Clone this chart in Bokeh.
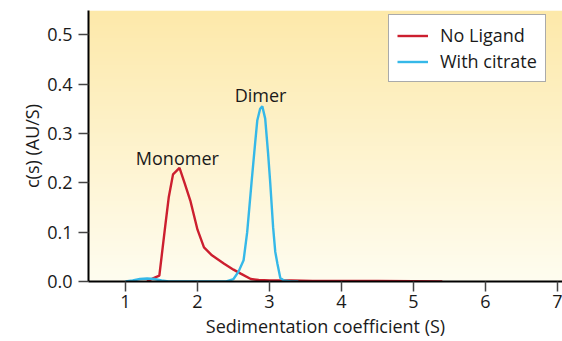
import numpy as np
from bokeh.plotting import figure
from bokeh.models import Range1d, Legend, LegendItem
from bokeh.core.properties import value
from bokeh.embed import file_html
from bokeh.resources import INLINE

# ---- data ----
no_ligand_s = [1.30, 1.39, 1.47, 1.55, 1.60, 1.66, 1.75, 1.82, 1.90, 2.00, 2.09, 2.20, 2.37, 2.50, 2.60, 2.74, 2.85, 3.00, 3.30, 3.60, 4.00, 4.50, 5.00, 5.40]
no_ligand_c = [0.000, 0.007, 0.012, 0.110, 0.170, 0.217, 0.230, 0.200, 0.164, 0.105, 0.069, 0.053, 0.036, 0.024, 0.016, 0.005, 0.003, 0.002, 0.002, 0.001, 0.001, 0.001, 0.0005, 0.0]

citrate_s = [1.00, 1.10, 1.20, 1.30, 1.40, 1.50, 1.60, 2.00, 2.40, 2.50, 2.57, 2.64, 2.69, 2.75, 2.80, 2.83, 2.87, 2.90, 2.94, 2.98, 3.01, 3.05, 3.08, 3.11, 3.15, 3.20, 3.30, 3.40]
citrate_c = [0.000, 0.002, 0.005, 0.006, 0.005, 0.002, 0.000, 0.000, 0.000, 0.005, 0.020, 0.043, 0.100, 0.200, 0.280, 0.326, 0.350, 0.355, 0.330, 0.260, 0.200, 0.110, 0.060, 0.036, 0.007, 0.002, 0.000, 0.000]

label_text = ["Monomer", "Dimer"]
label_x = [1.72, 2.875]
label_y = [0.251, 0.377]

x_ticks = [1, 2, 3, 4, 5, 6, 7]
y_ticks = [0.0, 0.1, 0.2, 0.3, 0.4, 0.5]

x_title = "Sedimentation coefficient (S)"
y_title = "c(s) (AU/S)"

FONT = "Open Sans"
FS = "18px"
TXT = "#1a1a1a"
RED = "#cc1f2f"
BLUE = "#35b8e8"

W, H = 562, 341
LEFT, TOP, BOTTOM = 88, 10, 60
PX_PER_UNIT = 72.0
x_start = 0.486
x_end = x_start + (W - LEFT) / PX_PER_UNIT

p = figure(width=W, height=H, output_backend="svg", toolbar_location=None,
           x_range=Range1d(x_start, x_end), y_range=Range1d(0.0, 0.549),
           min_border_left=LEFT, min_border_right=0, min_border_top=TOP,
           min_border_bottom=BOTTOM)
p.outline_line_color = None
p.grid.visible = False
p.background_fill_color = "white"
p.border_fill_color = "white"

# vertical gradient background
top = np.array([253, 233, 170], dtype=float)
bot = np.array([255, 253, 240], dtype=float)
n = 200
t = np.linspace(0, 1, n)[:, None]  # row 0 = bottom
cols = bot * (1 - t) + top * t
img = np.empty((n, 1), dtype=np.uint32)
view = img.view(dtype=np.uint8).reshape((n, 1, 4))
view[:, 0, 0] = cols[:, 0].astype(np.uint8)
view[:, 0, 1] = cols[:, 1].astype(np.uint8)
view[:, 0, 2] = cols[:, 2].astype(np.uint8)
view[:, 0, 3] = 255
x0, x1 = p.x_range.start, p.x_range.end
y0, y1 = p.y_range.start, p.y_range.end
p.image_rgba(image=[img], x=x0, y=y0, dw=x1 - x0, dh=y1 - y0)

r_red = p.line(no_ligand_s, no_ligand_c, line_color=RED, line_width=2.4)
r_blue = p.line(citrate_s, citrate_c, line_color=BLUE, line_width=2.4)

p.text(x=label_x, y=label_y, text=label_text, text_font=value(FONT),
       text_font_size=FS, text_color=TXT, text_align="center",
       text_baseline="alphabetic")

legend = Legend(items=[LegendItem(label="No Ligand", renderers=[r_red]),
                       LegendItem(label="With citrate", renderers=[r_blue])],
                location=(300, 199))
legend.label_text_font = FONT
legend.label_text_font_size = FS
legend.label_text_color = TXT
legend.border_line_color = "#555555"
legend.border_line_width = 1.2
legend.background_fill_alpha = 1.0
legend.background_fill_color = "white"
legend.glyph_width = 31
legend.label_height = 21
legend.glyph_height = 21
legend.spacing = 2
legend.padding = 8
legend.margin = 0
legend.label_standoff = 12
p.add_layout(legend)

for ax in (p.xaxis[0], p.yaxis[0]):
    ax.axis_line_width = 2
    ax.axis_line_color = "black"
    ax.major_tick_line_width = 1.5
    ax.major_tick_line_color = "#444444"
    ax.major_tick_out = 10
    ax.major_tick_in = 0
    ax.minor_tick_line_color = None
    ax.major_label_text_font = FONT
    ax.major_label_text_font_size = FS
    ax.major_label_text_color = TXT
    ax.axis_label_text_font = FONT
    ax.axis_label_text_font_size = FS
    ax.axis_label_text_font_style = "normal"
    ax.axis_label_text_color = TXT

p.xaxis.ticker = x_ticks
p.yaxis.ticker = y_ticks
p.yaxis.major_label_overrides = {v: f"{v:.1f}" for v in y_ticks}
p.xaxis.major_label_standoff = 3
p.yaxis.major_label_standoff = 6
p.xaxis.axis_label = x_title
p.yaxis.axis_label = y_title
p.xaxis.axis_label_standoff = 3
p.yaxis.axis_label_standoff = 0

open("out.html", "w").write(file_html(p, INLINE))
